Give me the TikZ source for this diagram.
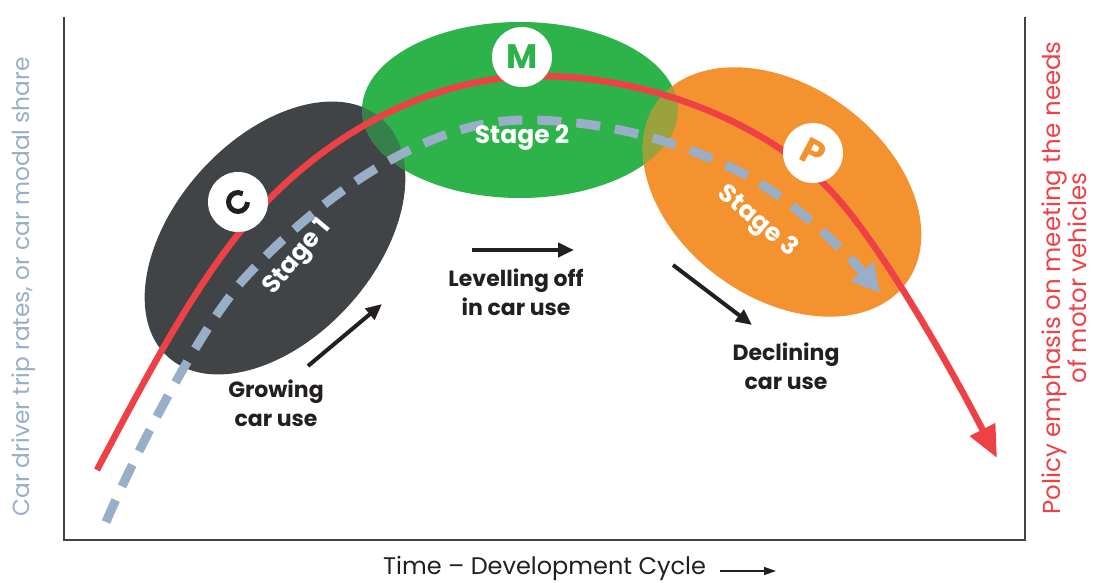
\documentclass[tikz,border=0pt]{standalone}
\usepackage{fontspec}
\setmainfont{Poppins}
\usetikzlibrary{arrows.meta}
\definecolor{cred}{HTML}{EE4146}
\definecolor{cblue}{HTML}{98AFC7}
\definecolor{cdark}{HTML}{404446}
\definecolor{cgreen}{HTML}{2EB34B}
\definecolor{corange}{HTML}{F4922F}
\definecolor{cink}{HTML}{231F20}
\tikzset{
  lbl/.style={font=\fontsize{22}{29}\selectfont\bfseries, text=cink, align=center, inner sep=0},
  stagelbl/.style={font=\fontsize{25}{28}\selectfont\bfseries, text=white, inner sep=0},
  badge/.style={circle, fill=white, minimum size=60pt, inner sep=0},
  trend/.style={line width=4pt, cink, -{Triangle[length=16pt,width=14pt]}},
  axis/.style={line width=1.4pt, cink!85},
}
\begin{document}
\begin{tikzpicture}[x=1pt,y=-1pt]
\useasboundingbox (0,0) rectangle (1094,583);
% ellipses
\fill[cdark, rotate around={48:(275,238)}] (275,238) ellipse [x radius=160, y radius=100];
\fill[cgreen] (520,110) ellipse [x radius=158, y radius=88];
\begin{scope}
  \clip[rotate around={48:(275,238)}] (275,238) ellipse [x radius=160, y radius=100];
  \fill[cgreen!55!cdark] (520,110) ellipse [x radius=158, y radius=88];
\end{scope}
\fill[corange, rotate around={-36:(782,192)}] (782,192) ellipse [x radius=154, y radius=106];
\begin{scope}
  \clip (520,110) ellipse [x radius=158, y radius=88];
  \fill[cgreen!45!corange, rotate around={-36:(782,192)}] (782,192) ellipse [x radius=154, y radius=106];
\end{scope}
% axes
\coordinate (tl) at (64,17);
\coordinate (bl) at (64,540);
\coordinate (br) at (1025,540);
\coordinate (tr) at (1025,17);
\draw[axis] (tl) -- (bl) -- (br) -- (tr);
% red curve
\coordinate (r0) at (97,470);
\coordinate (r1) at (240,232);
\coordinate (r2) at (540,76);
\coordinate (r3) at (827,187);
\coordinate (r4) at (997,458);
\draw[cred, line width=6.5pt, -{Triangle[length=32pt,width=27pt]}]
  (r0) .. controls (145,379) and (190,294) .. (r1)
       .. controls (310,145) and (420,76) .. (r2)
       .. controls (640,76) and (757,117) .. (r3)
       .. controls (877,237) and (952,370) .. (r4);
% blue dashed curve
\coordinate (b0) at (106,522);
\coordinate (b1) at (243,280);
\coordinate (b2) at (525,120);
\coordinate (b3) at (740,172);
\coordinate (b4) at (880,293);
\draw[cblue, line width=9pt, dash pattern=on 24pt off 15pt, -{Triangle[length=28pt,width=28pt]}]
  (b0) .. controls (136,452) and (198,332) .. (b1)
       .. controls (318,198) and (425,120) .. (b2)
       .. controls (600,120) and (675,139) .. (b3)
       .. controls (790,197) and (845,251) .. (b4);
% badges
\node[badge] (c) at (238,202) {};
\draw[cink, line width=5pt] ([shift={(0:9.5)}]c.center) arc[start angle=0, end angle=300, radius=9.5];
\node[badge, font=\fontsize{34}{34}\selectfont\bfseries, text=cgreen] (m) at (522,57) {M};
\node[badge, font=\fontsize{36}{36}\selectfont\bfseries, text=corange] (p) at (813,153) {\rotatebox{-28}{P}};
% stage labels
\node[stagelbl, rotate=50] (s1) at (298,258) {Stage 1};
\node[stagelbl] (s2) at (522,138) {Stage 2};
\node[stagelbl, rotate=-40] (s3) at (757,222) {Stage 3};
% trend arrows and labels
\coordinate (g1) at (308,366);
\coordinate (g2) at (382,304);
\draw[trend] (g1) -- (g2);
\node[lbl] (grow) at (276,403) {Growing\\car use};
\coordinate (l1) at (472,250);
\coordinate (l2) at (574,250);
\draw[trend] (l1) -- (l2);
\node[lbl] (lev) at (516,292) {Levelling off\\in car use};
\coordinate (d1) at (673,265);
\coordinate (d2) at (752,325);
\draw[trend] (d1) -- (d2);
\node[lbl] (dec) at (786,366) {Declining\\car use};
% axis labels
\node[rotate=90, text=cblue, font=\fontsize{23.3}{27}\selectfont, inner sep=0] (ylab) at (24,287) {Car driver trip rates, or car modal share};
\node[rotate=90, text=cred, font=\fontsize{24.5}{25}\selectfont, align=center, inner sep=0] (rlab) at (1064,278) {Policy emphasis on meeting the needs\\of motor vehicles};
\node[text=cink, font=\fontsize{24}{28}\selectfont, inner sep=0, anchor=west] (xlab) at (383,568) {Time – Development Cycle};
\coordinate (x1) at (720,571);
\coordinate (x2) at (776,571);
\draw[line width=1.4pt, cink, -{Triangle[length=12pt,width=8pt]}] (x1) -- (x2);
\end{tikzpicture}
\end{document}
